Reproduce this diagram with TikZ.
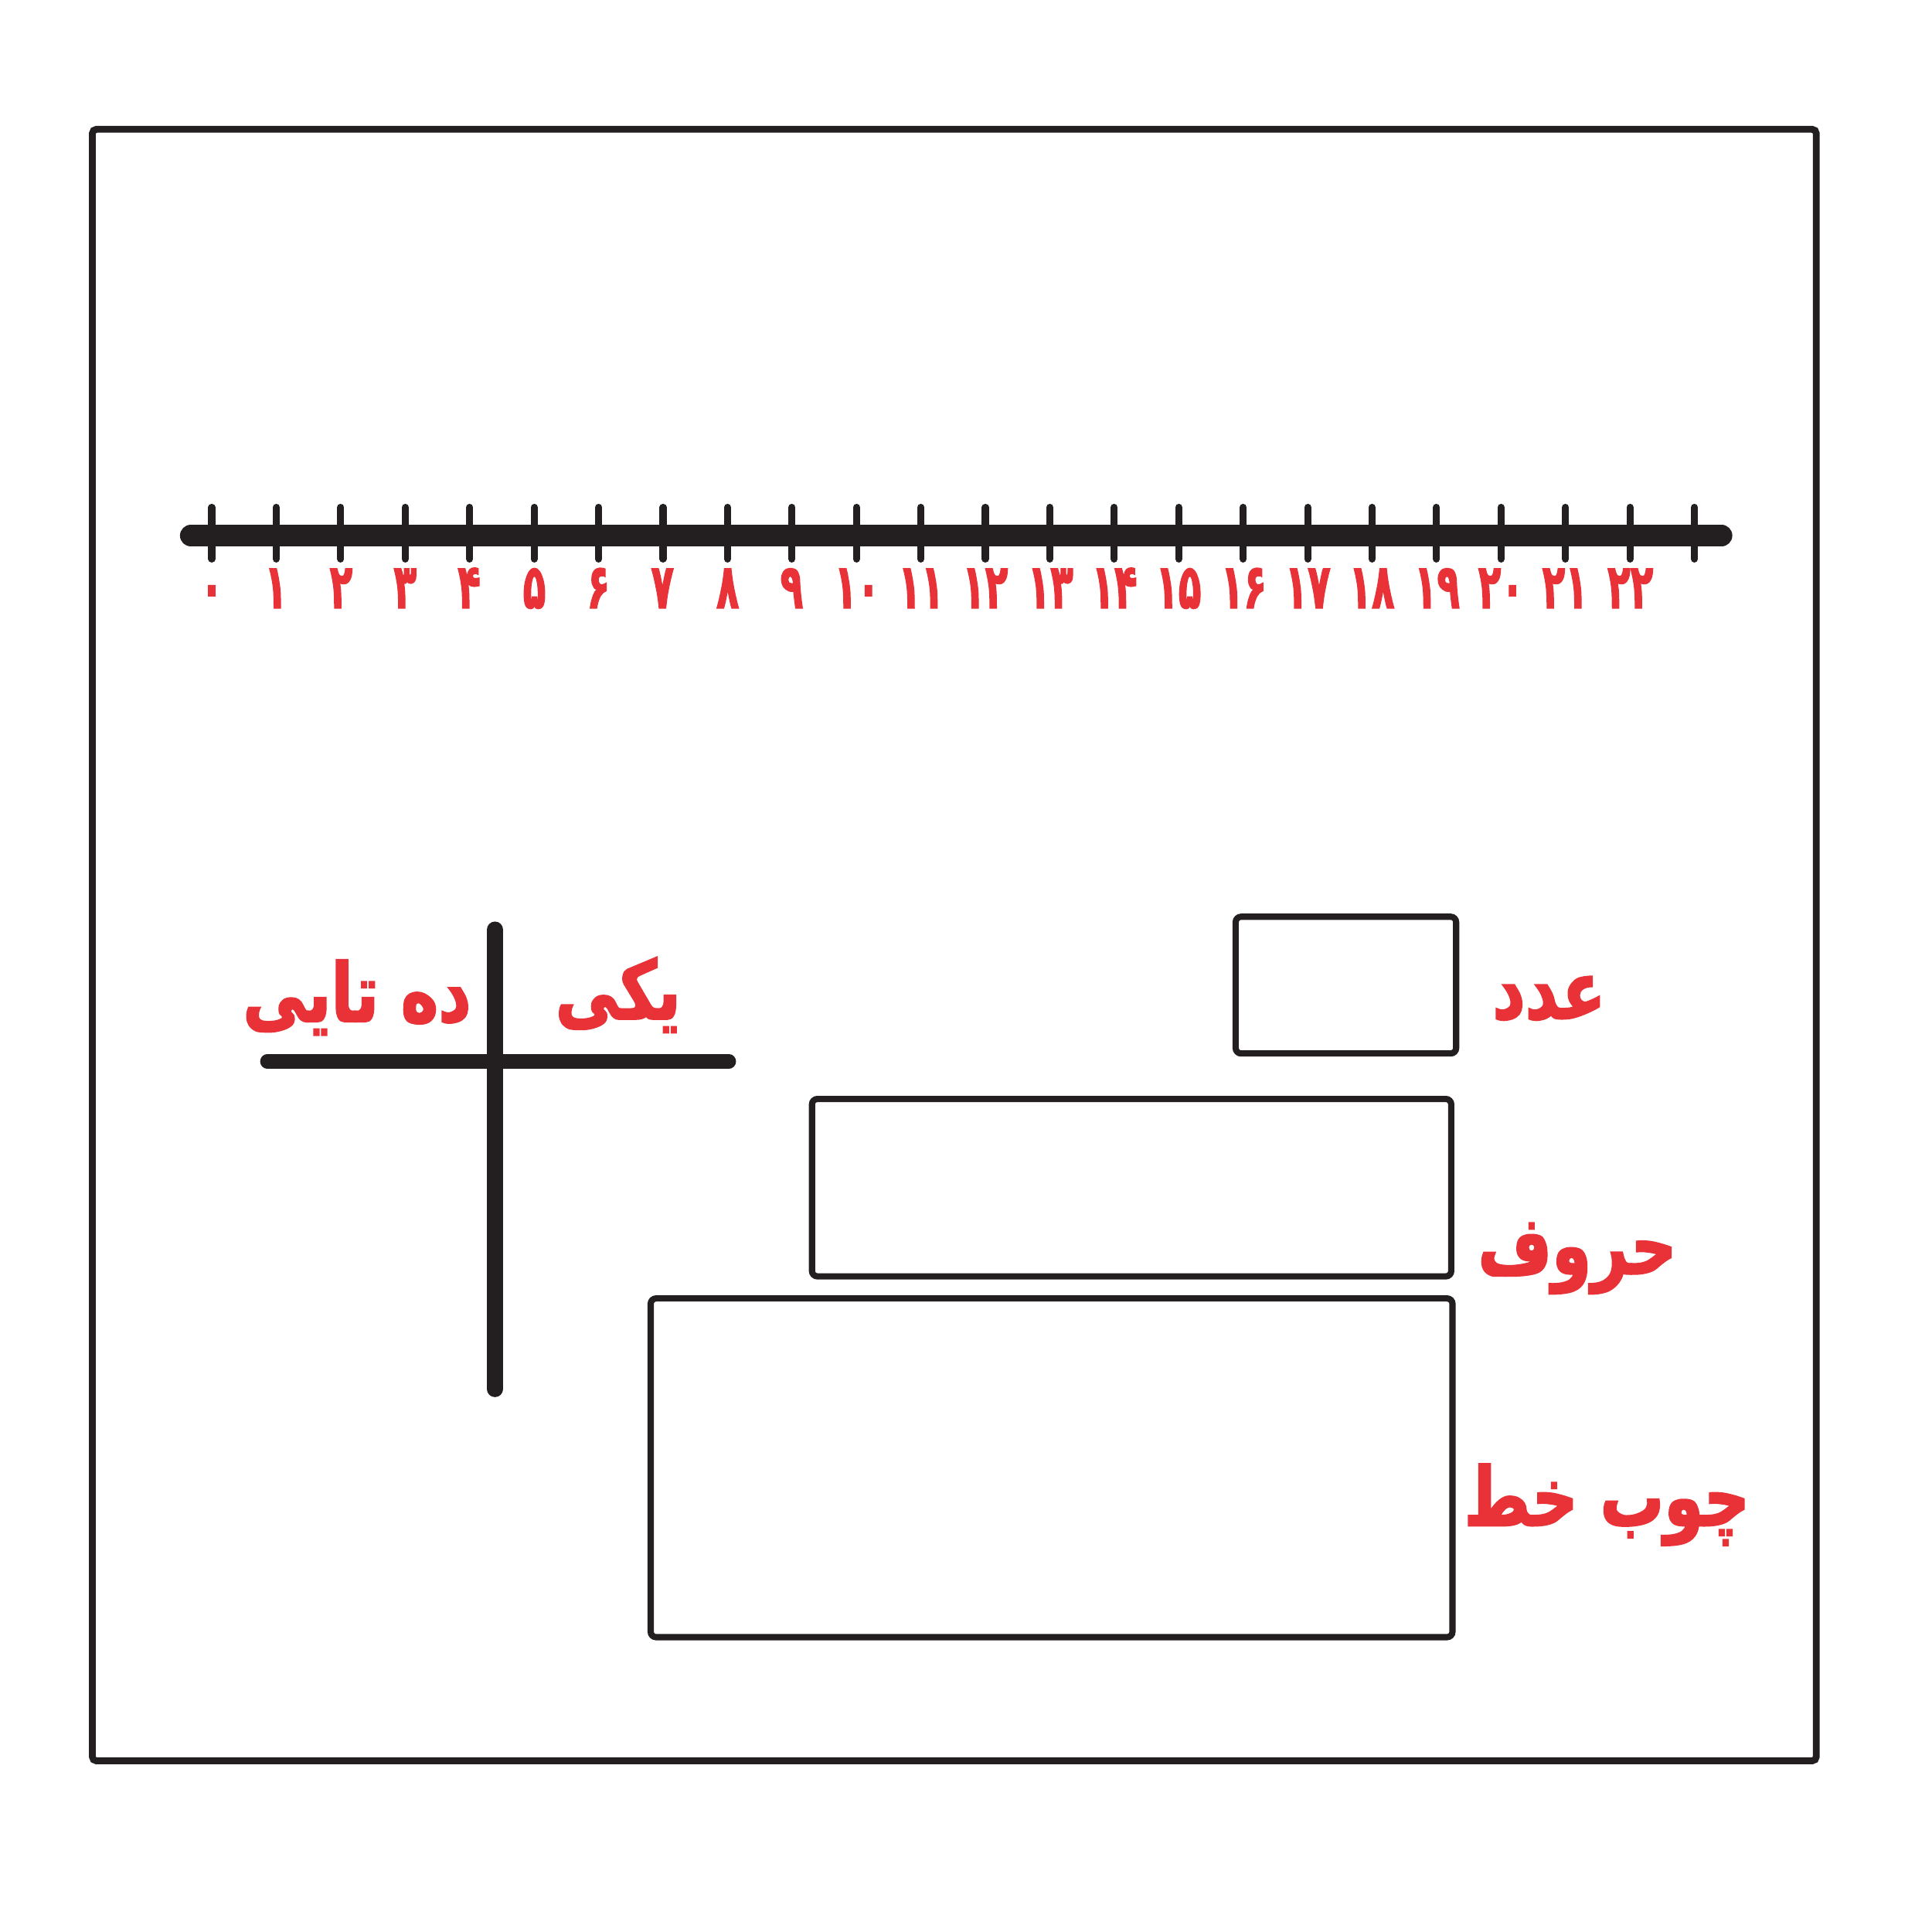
\documentclass[tikz,border=0pt]{standalone}
\usepackage{fontspec}
\newfontfamily\farsi[Script=Arabic, FakeStretch=0.78, FakeBold=2]{DejaVu Sans Bold}
\newfontfamily\farsidigits[Script=Arabic, FakeStretch=0.6, FakeBold=1.5]{DejaVu Sans Bold}
\TeXXeTstate=1
\definecolor{labred}{RGB}{232,50,55}
\definecolor{ink}{RGB}{35,31,32}

\begin{document}
\begin{tikzpicture}[x=0.015934cm,y=-0.015934cm]

        \useasboundingbox (0,0) rectangle (1569,1569);
        \draw[ink, line width=2.5pt, rounded corners=1.5pt] (75,105) rectangle (1475,1430);

        % number line
        \coordinate (lineL) at (155,435);
        \coordinate (lineR) at (1398,435);
        \draw[ink, line width=8pt, line cap=round] (lineL) -- (lineR);
        \foreach \i in {0,...,23}
          \draw[ink, line width=2.6pt, line cap=round] (172+52.35*\i,412) -- (172+52.35*\i,454);

        \begin{scope}[every node/.style={text=labred, anchor=base, inner sep=0pt,
            font=\farsidigits\fontsize{23}{23}\selectfont}]
          \node (0)  at (172,494)  {۰};
          \node (1)  at (224,494)  {۱};
          \node (2)  at (277,494)  {۲};
          \node (3)  at (329,494)  {۳};
          \node (4)  at (381,494)  {۴};
          \node (5)  at (434,494)  {۵};
          \node (6)  at (486,494)  {۶};
          \node (7)  at (538,494)  {۷};
          \node (8)  at (591,494)  {۸};
          \node (9)  at (643,494)  {۹};
          \node (10) at (696,494)  {۱۰};
          \node (11) at (748,494)  {۱۱};
          \node (12) at (800,494)  {۱۲};
          \node (13) at (853,494)  {۱۳};
          \node (14) at (905,494)  {۱۴};
          \node (15) at (957,494)  {۱۵};
          \node (16) at (1010,494) {۱۶};
          \node (17) at (1062,494) {۱۷};
          \node (18) at (1114,494) {۱۸};
          \node (19) at (1167,494) {۱۹};
          \node (20) at (1219,494) {۲۰};
          \node (21) at (1271,494) {۲۱};
          \node (22) at (1324,494) {۲۲};
        \end{scope}

        % place value chart
        \coordinate (tTop) at (402,755);
        \coordinate (tBot) at (402,1128);
        \coordinate (tL)   at (217,862);
        \coordinate (tR)   at (592,862);
        \draw[ink, line width=6pt, line cap=round] (tTop) -- (tBot);
        \draw[ink, line width=5.2pt, line cap=round] (tL) -- (tR);

        \begin{scope}[every node/.style={text=labred, inner sep=0pt,
            font=\farsi\fontsize{30}{30}\selectfont}]
          \node (tens)     at (290,810)  {\beginR ده تایی\endR};
          \node (ones)     at (502,808)  {\beginR یکی\endR};
          \node (numLab)   at (1258,811) {\beginR عدد\endR};
          \node (letLab)   at (1281,1022) {\beginR حروف\endR};
          \node (tallyLab) at (1305,1222) {\beginR چوب خط\endR};
        \end{scope}

        \begin{scope}[every node/.style={draw=ink, line width=2.3pt, rounded corners=2pt, inner sep=0pt}]
          \node[minimum width=2.852cm, minimum height=1.769cm]  (numBox)   at (1093,800)    {};
          \node[minimum width=8.270cm, minimum height=2.295cm]  (letBox)   at (919,964.5)   {};
          \node[minimum width=10.373cm, minimum height=4.382cm] (tallyBox) at (854,1192)    {};
        \end{scope}

      \end{tikzpicture}
\end{document}
